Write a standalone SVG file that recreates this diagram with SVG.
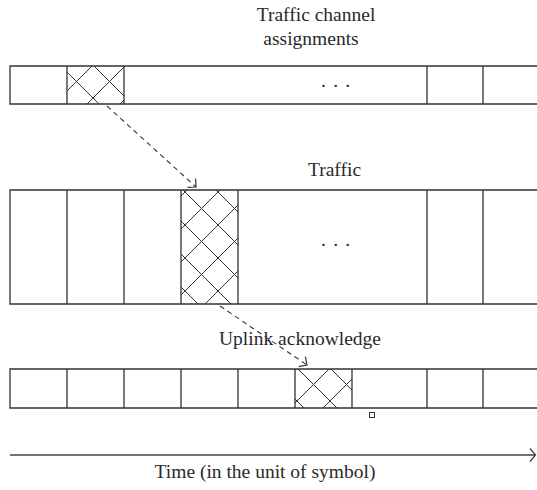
<svg xmlns="http://www.w3.org/2000/svg" width="537" height="490" viewBox="0 0 537 490">
  <style>
    .frame { fill: none; stroke: #333; stroke-width: 1.3; }
    .label { font-family: "Liberation Serif", "Times New Roman", serif; font-size: 19.5px; fill: #2a2a2a; }
    .dash { fill: none; stroke: #333; stroke-width: 1.1; stroke-dasharray: 5 4; }
    .axis { fill: none; stroke: #444; stroke-width: 1.3; }
  </style>
  <defs>
    <!-- crosshatch tiles, each phase set for its own cell -->
    <pattern id="hatch1" patternUnits="userSpaceOnUse" x="60" y="65" width="33" height="33">
      <path d="M0,0 L33,33 M33,0 L0,33" stroke="#333" stroke-width="1" fill="none"/>
    </pattern>
    <pattern id="hatch2" patternUnits="userSpaceOnUse" x="185" y="192" width="33" height="33">
      <path d="M0,0 L33,33 M33,0 L0,33" stroke="#333" stroke-width="1" fill="none"/>
    </pattern>
    <pattern id="hatch3" patternUnits="userSpaceOnUse" x="297" y="368" width="33" height="33">
      <path d="M0,0 L33,33 M33,0 L0,33" stroke="#333" stroke-width="1" fill="none"/>
    </pattern>
    <marker id="openHead" markerUnits="userSpaceOnUse" markerWidth="16" markerHeight="16" refX="8" refY="8" orient="auto" viewBox="0 0 16 16">
      <path d="M2,2 L8,8 L2,14" fill="none" stroke="#333" stroke-width="1.2"/>
    </marker>
  </defs>

  <!-- Traffic channel assignments -->
  <g id="assignments">
    <text class="label" x="316" y="21" text-anchor="middle">Traffic channel</text>
    <text class="label" x="311" y="45" text-anchor="middle">assignments</text>
    <rect x="67" y="66" width="57" height="38" fill="url(#hatch1)"/>
    <path class="frame" d="M537,66 H10 V104 H537 M67,66 V104 M124,66 V104 M427,66 V104 M483,66 V104"/>
    <text class="label" x="320.9 333.3 345.3" y="87">...</text>
  </g>

  <!-- Traffic -->
  <g id="traffic">
    <text class="label" x="334.5" y="176" text-anchor="middle">Traffic</text>
    <rect x="181" y="190" width="57" height="114" fill="url(#hatch2)"/>
    <path class="frame" d="M537,190 H10 V304 H537 M67,190 V304 M124,190 V304 M181,190 V304 M238,190 V304 M427,190 V304 M483,190 V304"/>
    <text class="label" x="320.9 333.3 345.3" y="246">...</text>
  </g>

  <!-- Uplink acknowledge -->
  <g id="uplink">
    <text class="label" x="300" y="345" text-anchor="middle">Uplink acknowledge</text>
    <rect x="295" y="369" width="57" height="39" fill="url(#hatch3)"/>
    <path class="frame" d="M537,369 H10 V408 H537 M67,369 V408 M124,369 V408 M181,369 V408 M238,369 V408 M295,369 V408 M352,369 V408 M427,369 V408 M483,369 V408"/>
    <rect x="369.5" y="412.5" width="5" height="5" fill="none" stroke="#333" stroke-width="1"/>
  </g>

  <!-- Time axis -->
  <g id="time-axis">
    <path class="axis" d="M10,455 H535 M530,448.5 L535.5,455 L530,461.5"/>
    <text class="label" x="265" y="478" text-anchor="middle">Time (in the unit of symbol)</text>
  </g>

  <!-- connectors -->
  <g id="connectors">
    <path class="dash" d="M107,106 L196,187" marker-end="url(#openHead)"/>
    <path class="dash" d="M220,306 L307,365" marker-end="url(#openHead)"/>
  </g>
</svg>
